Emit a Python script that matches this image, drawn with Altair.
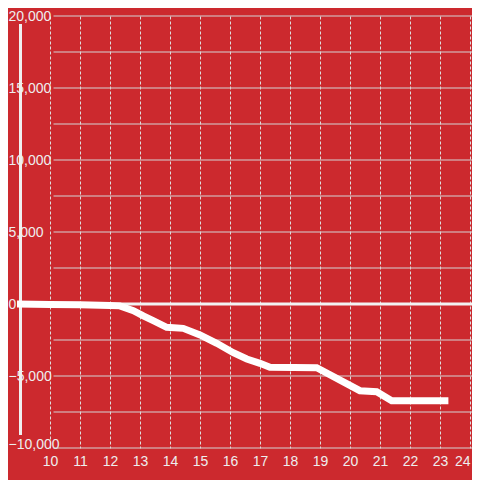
import altair as alt
import pandas as pd

# Data
hours = [8.9, 10.0, 11.0, 12.0, 12.33, 12.78, 13.11, 13.44, 13.89, 14.44, 15.0,
         15.56, 16.11, 16.56, 17.0, 17.33, 18.89, 20.33, 20.89, 21.39, 23.28]
values = [0, -30, -60, -100, -130, -460, -830, -1155, -1620, -1690, -2150,
          -2730, -3380, -3820, -4120, -4400, -4420, -6020, -6090, -6715, -6715]

x_ticks = list(range(10, 25))
y_labels = [-10000, -5000, 0, 5000, 10000, 15000, 20000]
y_grid = [-10000, -7500, -5000, -2500, 0, 2500, 5000, 7500, 10000,
          12500, 15000, 17500, 20000]

BG = "#cc292e"
W, H = 455, 432

line_df = pd.DataFrame({"hour": hours, "value": values})
grid_df = pd.DataFrame({"value": y_grid})
zero_df = pd.DataFrame({"value": [0]})

xscale = alt.Scale(domain=[8.9, 8.9 + W / 30.0], nice=False, zero=False)
yscale = alt.Scale(domain=[-10000, 20000], nice=False)

x_axis = alt.Axis(
    values=x_ticks, title=None, grid=True, gridColor="#dddddd", gridDash=[3, 2],
    gridWidth=1, gridOpacity=1, ticks=False, domain=False, labelPadding=6,
    labelAngle=0, labelFlush=5,
)
y_axis = alt.Axis(
    values=y_labels, labelExpr="format(datum.value, ',')", title=None,
    grid=False, ticks=False, tickSize=0,
    domain=False, labelAlign="left", labelPadding=9,
    labelBaseline=alt.condition("datum.value == -10000",
                                alt.value("alphabetic"), alt.value("middle")),
)

y_enc = alt.Y("value:Q", scale=yscale, axis=y_axis)

base_line = alt.Chart(line_df).mark_line(
    color="white", strokeWidth=7, strokeCap="butt", clip=True
).encode(
    x=alt.X("hour:Q", scale=xscale, axis=x_axis),
    y=y_enc,
)

hgrid = alt.Chart(grid_df).mark_rule(color="#d4d4d4", strokeWidth=1).encode(
    y=y_enc,
    x=alt.value(36.5),
    x2=alt.value(W),
)

zero_line = alt.Chart(zero_df).mark_rule(
    color="#f2f2f2", strokeWidth=3
).encode(y=y_enc)

axis_bar = alt.Chart(zero_df).mark_rule(
    color="#f0f0f0", strokeWidth=3
).encode(x=alt.value(3.5), y=alt.value(8), y2=alt.value(419))

chart = alt.layer(hgrid, zero_line, axis_bar, base_line).properties(
    width=W, height=H,
    autosize=alt.AutoSizeParams(type="none"),
    padding={"left": 9, "top": 8, "right": 0, "bottom": 32},
    background=BG,
).configure_view(stroke=None).configure_axis(
    labelFontSize=14, labelFont="Liberation Sans", labelColor="#eeeeee",
)

chart.save("out.html", embed_options={"renderer": "svg", "actions": False})
